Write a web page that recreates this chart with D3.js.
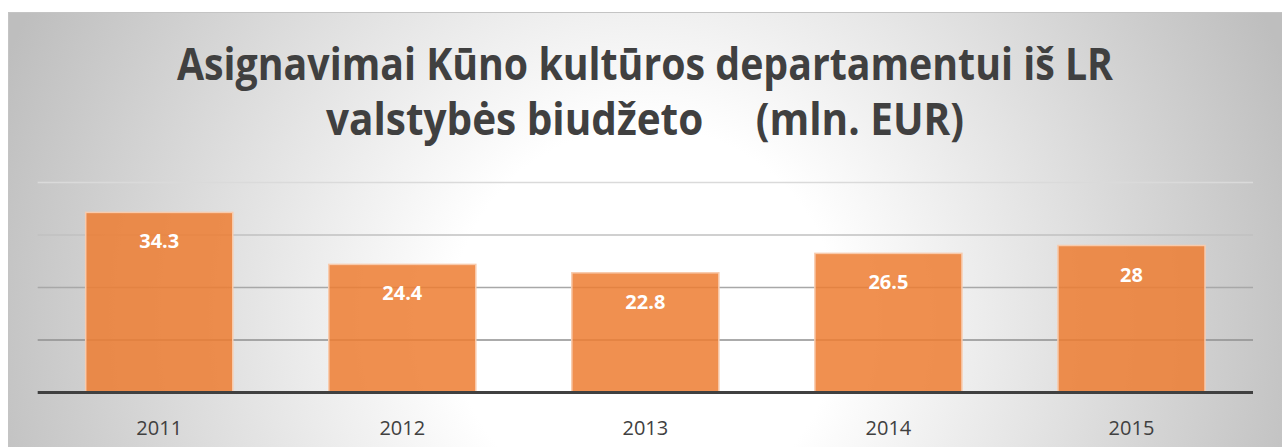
<!DOCTYPE html>
<html>
<head>
<meta charset="utf-8">
<script src="https://cdn.jsdelivr.net/npm/d3@7"></script>
<style>
  html, body { margin: 0; padding: 0; background: #fff; }
  svg { display: block; }
</style>
</head>
<body>
<svg id="chart"></svg>
<script>
// data
const years = ["2011", "2012", "2013", "2014", "2015"];
const amounts = [34.3, 24.4, 22.8, 26.5, 28];
const yTicks = [0, 10, 20, 30, 40];
const titleLines = [
    "Asignavimai Kūno kultūros departamentui iš LR",
    "valstybės biudžeto     (mln. EUR)"
];

class BarChart {
    margin = { top: 182.5, right: 29, bottom: 54.5, left: 37.7 }

    constructor(svg, width = 1282, height = 447) {
        this.svg = svg;
        this.width = width;
        this.height = height;
    }

    initialize() {
        this.svg = d3.select(this.svg)
            .attr("width", this.width)
            .attr("height", this.height);

        const defs = this.svg.append("defs");
        const grad = defs.append("radialGradient")
            .attr("id", "bg")
            .attr("gradientUnits", "userSpaceOnUse")
            .attr("cx", 645).attr("cy", 320).attr("r", 690);
        grad.append("stop").attr("offset", 0).attr("stop-color", "#ffffff");
        grad.append("stop").attr("offset", 0.28).attr("stop-color", "#ffffff");
        grad.append("stop").attr("offset", 1).attr("stop-color", "#bebebe");

        // panel with its thin border
        this.svg.append("rect")
            .attr("x", 8.5).attr("y", 12.5)
            .attr("width", this.width).attr("height", this.height)
            .attr("fill", "url(#bg)")
            .attr("stroke", "#c4c4c4")
            .attr("stroke-width", 1);

        this.title = this.svg.append("g");
        this.grid = this.svg.append("g");
        this.bars = this.svg.append("g");
        this.labels = this.svg.append("g");
        this.xAxis = this.svg.append("g");

        this.xScale = d3.scaleBand()
            .range([this.margin.left, this.width - this.margin.right])
            .paddingInner(0.395)
            .paddingOuter(0.1975);
        this.yScale = d3.scaleLinear()
            .range([this.height - this.margin.bottom, this.margin.top]);
    }

    update() {
        const x = this.xScale.domain(years);
        const y = this.yScale.domain([0, d3.max(yTicks)]);
        const [x0, x1] = x.range();

        // title, two centred lines squeezed to the original width
        const titleWidths = [936, 638];
        this.title.selectAll("text")
            .data(titleLines)
            .join("text")
            .attr("x", 645)
            .attr("y", (d, i) => 80 + i * 55)
            .attr("text-anchor", "middle")
            .attr("xml:space", "preserve")
            .style("white-space", "pre")
            .attr("textLength", (d, i) => titleWidths[i])
            .attr("lengthAdjust", "spacingAndGlyphs")
            .attr("font-family", "'Open Sans', sans-serif")
            .attr("font-weight", 700)
            .attr("font-size", 44)
            .attr("fill", "#404040")
            .text(d => d);

        // gridlines get lighter towards the top
        const gridColor = d3.scaleLinear().domain([10, 40]).range(["#8f8f8f", "#dadada"]);
        this.grid.selectAll("line")
            .data(yTicks.filter(t => t > 0))
            .join("line")
            .attr("x1", x0).attr("x2", x1)
            .attr("y1", d => y(d)).attr("y2", d => y(d))
            .attr("stroke", d => gridColor(d))
            .attr("stroke-width", 1.4);

        this.bars.selectAll("rect")
            .data(amounts)
            .join("rect")
            .attr("x", (d, i) => x(years[i]))
            .attr("y", d => y(d))
            .attr("width", x.bandwidth())
            .attr("height", d => y(0) - y(d))
            .attr("fill", "#ED7D31")
            .attr("fill-opacity", 0.85)
            .attr("stroke", "#f8cbad")
            .attr("stroke-width", 1.5);

        this.labels.selectAll("text")
            .data(amounts)
            .join("text")
            .attr("x", (d, i) => x(years[i]) + x.bandwidth() / 2)
            .attr("y", d => y(d) + 36)
            .attr("text-anchor", "middle")
            .attr("font-family", "'Open Sans', sans-serif")
            .attr("font-weight", 700)
            .attr("font-size", 20)
            .attr("fill", "#ffffff")
            .text(d => d);

        this.xAxis
            .attr("transform", `translate(0, ${y(0)})`)
            .call(d3.axisBottom(x).tickSize(0).tickPadding(28));
        this.xAxis.select(".domain")
            .attr("d", `M${x0},0H${x1}`)
            .attr("stroke", "#404040")
            .attr("stroke-width", 2.8);
        this.xAxis.selectAll(".tick text")
            .attr("font-family", "'Open Sans', sans-serif")
            .attr("font-size", 20)
            .attr("fill", "#404040");
    }
}

const chart = new BarChart(document.getElementById("chart"));
chart.initialize();
chart.update();
</script>
</body>
</html>
